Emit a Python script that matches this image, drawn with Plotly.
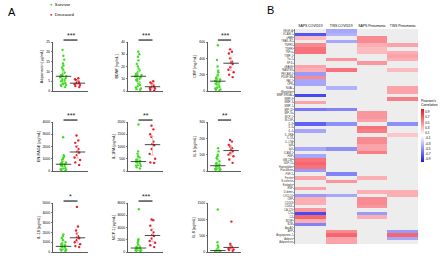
import numpy as np
import plotly.graph_objects as go

W, H = 440, 256
FONT = "Arial, Liberation Sans, sans-serif"
GREEN = "#3fdc22"
RED = "#e8202a"
GREEN_ERR = "#b6eda6"
RED_ERR = "#f4b4b8"

groups = ["Survivor", "Deceased"]

# ---------------- Panel A data ----------------
adiponectin_surv = [21, 18, 16, 14, 13, 12, 11, 10, 9.5, 9, 8.5, 8, 8, 7.5, 7.5, 7, 6.5, 6, 5.5, 5, 5, 4.5, 4, 4, 3.5, 3, 3, 2.5, 2]
adiponectin_dec = [6.5, 6, 5.5, 5, 4.5, 4, 4, 3.5, 3, 2.5, 2]
bdnf_surv = [32, 30, 28, 25, 22, 20, 18, 17, 16, 15, 14, 13, 13, 12, 12, 11, 10, 10, 9, 8, 7, 6, 5, 4, 3, 2, 1.5, 1]
bdnf_dec = [8, 7, 6, 5, 4, 3.5, 3, 2.5, 2, 1, 0.5]
crp_surv = [560, 380, 300, 250, 230, 200, 180, 160, 150, 140, 130, 125, 120, 110, 100, 90, 80, 70, 60, 50, 40, 30, 20, 15, 10]
crp_dec = [510, 480, 460, 400, 360, 350, 330, 290, 260, 230, 200, 170]
enrage_surv = [2750, 1300, 1200, 1100, 1000, 900, 800, 700, 650, 600, 580, 550, 500, 450, 400, 350, 300, 250, 200, 150, 100, 50, 30]
enrage_dec = [2900, 2500, 2300, 2000, 1800, 1600, 1500, 1300, 1100, 900, 700, 500]
il1ra_surv = [1900, 800, 700, 600, 550, 500, 450, 420, 400, 390, 380, 350, 320, 300, 280, 250, 220, 200, 150, 100]
il1ra_dec = [1850, 1700, 1500, 1400, 1200, 1100, 1050, 900, 700, 500, 350, 330]
il6_surv = [140, 120, 100, 90, 80, 70, 60, 50, 45, 40, 35, 30, 28, 25, 22, 20, 18, 15, 12, 10, 8, 5]
il6_dec = [190, 180, 160, 150, 140, 130, 120, 110, 100, 90, 70, 50]
il18_surv = [1800, 1600, 1400, 1200, 1000, 900, 800, 700, 650, 600, 550, 500, 450, 400, 350, 300, 250, 200, 150, 100]
il18_dec = [4600, 2600, 2200, 1900, 1600, 1500, 1400, 1200, 1000, 800, 600, 500]
mcp1_surv = [7000, 2100, 1800, 1500, 1200, 1000, 900, 800, 750, 700, 650, 600, 550, 500, 450, 400, 350, 300, 250, 200, 150]
mcp1_dec = [5300, 5200, 4300, 3600, 3200, 2800, 2600, 2200, 1800, 1500, 1100, 800]
il8_surv = [1300, 300, 200, 150, 100, 80, 60, 55, 50, 45, 40, 35, 30, 25, 20, 15, 10, 8, 5]
il8_dec = [930, 250, 200, 170, 150, 140, 120, 100, 80, 60, 40]

titles = ["Adiponectin [µg/mL]", "BDNF [ng/mL]", "CRP [mg/mL]",
          "EN-RAGE [pg/mL]", "IL-1RA [pg/mL]", "IL-6 [pg/mL]",
          "IL-18 [pg/mL]", "MCP-1 [pg/mL]", "IL-8 [pg/mL]"]
survivor_sets = [adiponectin_surv, bdnf_surv, crp_surv, enrage_surv, il1ra_surv, il6_surv, il18_surv, mcp1_surv, il8_surv]
deceased_sets = [adiponectin_dec, bdnf_dec, crp_dec, enrage_dec, il1ra_dec, il6_dec, il18_dec, mcp1_dec, il8_dec]
y_max = [25, 40, 600, 4000, 2000, 300, 5000, 8000, 1500]
y_dtick = [5, 10, 200, 1000, 500, 100, 1000, 2000, 500]
stars = ["***", "***", "***", "***", "**", "**", "*", "***", ""]

# ---------------- Panel B data ----------------
hm_columns = ["SAPS COVID19", "TISS COVID19", "SAPS Pneumonia", "TISS Pneumonia"]
hm_rows = ["VEGF-A", "VCAM-1", "uPAR", "TRAIL-R2", "TNFRII", "TNFRI", "TNF-α", "TIMP-1", "Tie-2", "SP-D",
           "sRAGE", "RANTES", "PECAM-1", "PDGF-BB", "PAI-1", "OPN", "NGAL", "Myoglobin", "MMP-9/NGAL", "MMP-8",
           "MMP-3", "MMP-1", "MIP-1β", "MIP-1α", "MCP-1", "M-CSF", "IL-8", "IL-6", "IL-4", "IL-1RA",
           "IL-18", "IL-17A", "IgM", "IgG", "ICAM-1", "HGF", "GM-CSF", "GDF-15", "Haptoglobin", "Fractalkine",
           "FGF-2", "Ferritin", "E-selectin", "Endoglin", "EGF", "D-dimer", "CXCL10", "CRP", "CD163", "CD40L",
           "CA-125", "C5a", "C3", "BDNF", "B2M", "ApoA1", "AFP", "Angiopoietin-2", "Adipsin", "Adiponectin"]
N = None
hm_values = [
    [N, -0.4, N, N], [-0.75, -0.35, N, N], [0.3, N, 0.5, N], [N, -0.4, 0.5, N], [0.5, N, 0.35, 0.4],
    [0.6, N, 0.3, N], [0.6, N, 0.3, 0.35], [N, N, N, 0.4], [N, 0.45, N, 0.35], [N, N, 0.45, N],
    [0.4, N, N, N], [0.35, 0.6, N, 0.3], [-0.45, N, N, N], [0.5, N, N, N], [-0.4, N, N, N],
    [-0.4, N, N, N], [N, -0.35, N, 0.4], [N, N, N, 0.4], [-0.8, N, N, N], [N, N, N, 0.55],
    [0.4, N, N, N], [N, N, N, N], [-0.6, -0.55, N, N], [N, N, 0.45, N], [N, N, 0.45, N],
    [N, N, 0.4, N], [-0.7, -0.5, N, -0.5], [N, N, 0.6, N], [-0.4, N, 0.55, N], [N, N, N, 0.25],
    [N, N, 0.5, N], [N, N, 0.5, N], [N, N, 0.4, N], [-0.4, -0.5, 0.4, N], [N, N, 0.55, N],
    [-0.4, N, N, N], [0.6, N, N, N], [0.65, N, N, N], [0.6, N, N, N], [-0.45, N, N, N],
    [N, -0.55, N, N], [0.4, N, 0.35, N], [N, 0.45, N, N], [N, N, N, N], [0.4, N, N, N],
    [N, N, 0.35, 0.35], [-0.45, -0.4, N, 0.35], [0.35, N, 0.5, N], [0.35, N, 0.5, N], [N, N, 0.45, N],
    [0.45, N, N, N], [-0.8, N, -0.45, N], [0.65, N, 0.35, N], [0.35, N, N, N], [-0.55, N, N, N],
    [N, N, N, N], [N, 0.5, N, -0.45], [N, 0.65, N, 0.65], [N, 0.4, N, -0.4], [N, 0.4, N, N],
]
cbar_ticks = [0.9, 0.7, 0.5, 0.3, 0.1, -0.1, -0.3, -0.5, -0.7, -0.9]

# ---------------- Layout geometry (pixels) ----------------
col_x0 = [53, 128, 208]
col_w = [35, 35, 33]
row_y0 = [42, 122, 203]
row_h = 49

fig = go.Figure()
layout = dict(width=W, height=H, margin=dict(l=0, r=0, t=0, b=0, autoexpand=False),
              paper_bgcolor="white", plot_bgcolor="white",
              font=dict(family=FONT, size=4, color="black"),
              showlegend=False, boxmode="overlay")
shapes, annotations = [], []

for i in range(9):
    r, c = divmod(i, 3)
    n = i + 1
    sfx = "" if n == 1 else str(n)
    xa, ya = f"x{sfx}", f"y{sfx}"
    xd = [col_x0[c] / W, (col_x0[c] + col_w[c]) / W]
    yd = [1 - (row_y0[r] + row_h) / H, 1 - row_y0[r] / H]
    for k, (vals, col) in enumerate([(survivor_sets[i], GREEN), (deceased_sets[i], RED)]):
        fig.add_trace(go.Box(x=[k] * len(vals), y=vals, xaxis=xa, yaxis=ya, name=groups[k],
                             boxpoints="all", jitter=1.0, pointpos=0,
                             line=dict(width=0, color="rgba(0,0,0,0)"),
                             fillcolor="rgba(0,0,0,0)",
                             marker=dict(size=2.4, color=col), hoverinfo="y"))
    for k, (vals, ecol) in enumerate([(survivor_sets[i], GREEN_ERR), (deceased_sets[i], RED_ERR)]):
        q1, med, q3 = np.percentile(vals, [25, 50, 75])
        fig.add_trace(go.Scatter(x=[k], y=[med], xaxis=xa, yaxis=ya, mode="markers",
                                 name=groups[k],
                                 marker=dict(symbol="line-ew", size=11,
                                             line=dict(width=0.9, color="#333333")),
                                 error_y=dict(type="data", symmetric=False, array=[q3 - med],
                                              arrayminus=[med - q1], color=ecol,
                                              thickness=0.8, width=1.5)))
    layout[f"xaxis{sfx}"] = dict(domain=xd, anchor=ya, range=[-0.75, 1.75],
                                 showticklabels=False, ticks="", automargin=False,
                                 showline=True, linecolor="#333", linewidth=0.8,
                                 showgrid=False, zeroline=False, fixedrange=True)
    layout[f"yaxis{sfx}"] = dict(domain=yd, anchor=xa, range=[0, y_max[i]], dtick=y_dtick[i],
                                 tick0=0, ticks="outside", ticklen=1.5, tickwidth=0.6,
                                 tickcolor="#333", showline=True, linecolor="#333",
                                 linewidth=0.8, showgrid=False, zeroline=False,
                                 automargin=False, tickfont=dict(size=3.4),
                                 title=dict(text=titles[i], font=dict(size=3.8), standoff=2))
    if stars[i]:
        shapes.append(dict(type="line", xref=xa, yref=f"{ya} domain", x0=0, x1=1,
                           y0=1.04, y1=1.04, line=dict(color="#222", width=1.2)))
        annotations.append(dict(text=stars[i], xref=xa, yref=f"{ya} domain", x=0.5, y=1.03,
                                yanchor="bottom", xanchor="center", showarrow=False,
                                font=dict(size=7, color="#222")))

# ---------------- Heatmap ----------------
fig.add_trace(go.Heatmap(z=hm_values, x=hm_columns, y=hm_rows, xaxis="x10", yaxis="y10",
                         zmin=-1, zmax=1, hoverongaps=False,
                         colorscale=[[0, "#1a1af0"], [0.45, "#ececff"], [0.5, "#ffffff"],
                                     [0.55, "#ffecec"], [1, "#f01020"]],
                         colorbar=dict(x=421 / W, xanchor="left", y=1 - 96 / H, yanchor="top",
                                       len=66 / H, lenmode="fraction", thickness=3,
                                       outlinewidth=0, tickvals=cbar_ticks,
                                       ticktext=[f"{t:.1f}" for t in cbar_ticks],
                                       tickfont=dict(size=3.2), ticklen=0, xpad=0, ypad=0,
                                       title=dict(text="Pearson's<br>Correlation", side="top",
                                                  font=dict(size=3.4)))))
layout["xaxis10"] = dict(domain=[295 / W, 418 / W], anchor="y10", side="top", type="category",
                         tickangle=0, automargin=False,
                         tickfont=dict(size=3.4), ticks="", showgrid=False, zeroline=False)
layout["yaxis10"] = dict(domain=[1 - 244 / H, 1 - 29 / H], anchor="x10", type="category",
                         autorange="reversed", tickmode="array", tickvals=hm_rows,
                         ticktext=hm_rows, tickfont=dict(size=2.6, color="#333"), ticks="outside",
                         ticklen=1, tickwidth=0.4, showline=True, linecolor="#333",
                         linewidth=0.6, showgrid=False, zeroline=False, automargin=False)
shapes.append(dict(type="rect", xref="x10 domain", yref="y10 domain", x0=0, x1=1, y0=0, y1=1,
                   fillcolor="#ededed", line=dict(width=0), layer="below"))

# ---------------- Panel labels and legend ----------------
annotations += [
    dict(text="A", x=6 / W, y=1 - 12 / H, xref="paper", yref="paper", xanchor="left",
         yanchor="middle", showarrow=False, font=dict(size=11)),
    dict(text="B", x=265 / W, y=1 - 10 / H, xref="paper", yref="paper", xanchor="left",
         yanchor="middle", showarrow=False, font=dict(size=11)),
    dict(text=f"<span style='color:{GREEN}'>●</span>  Survivor", x=48 / W, y=1 - 4 / H,
         xref="paper", yref="paper", xanchor="left", yanchor="middle", showarrow=False,
         font=dict(size=4.2)),
    dict(text=f"<span style='color:{RED}'>●</span>  Deceased", x=48 / W, y=1 - 14 / H,
         xref="paper", yref="paper", xanchor="left", yanchor="middle", showarrow=False,
         font=dict(size=4.2)),
]
layout["shapes"] = shapes
layout["annotations"] = annotations
fig.update_layout(**layout)
fig.write_html("out.html", config={"displayModeBar": False, "staticPlot": True},
               post_script="document.body.style.margin='0';document.body.style.padding='0';")
